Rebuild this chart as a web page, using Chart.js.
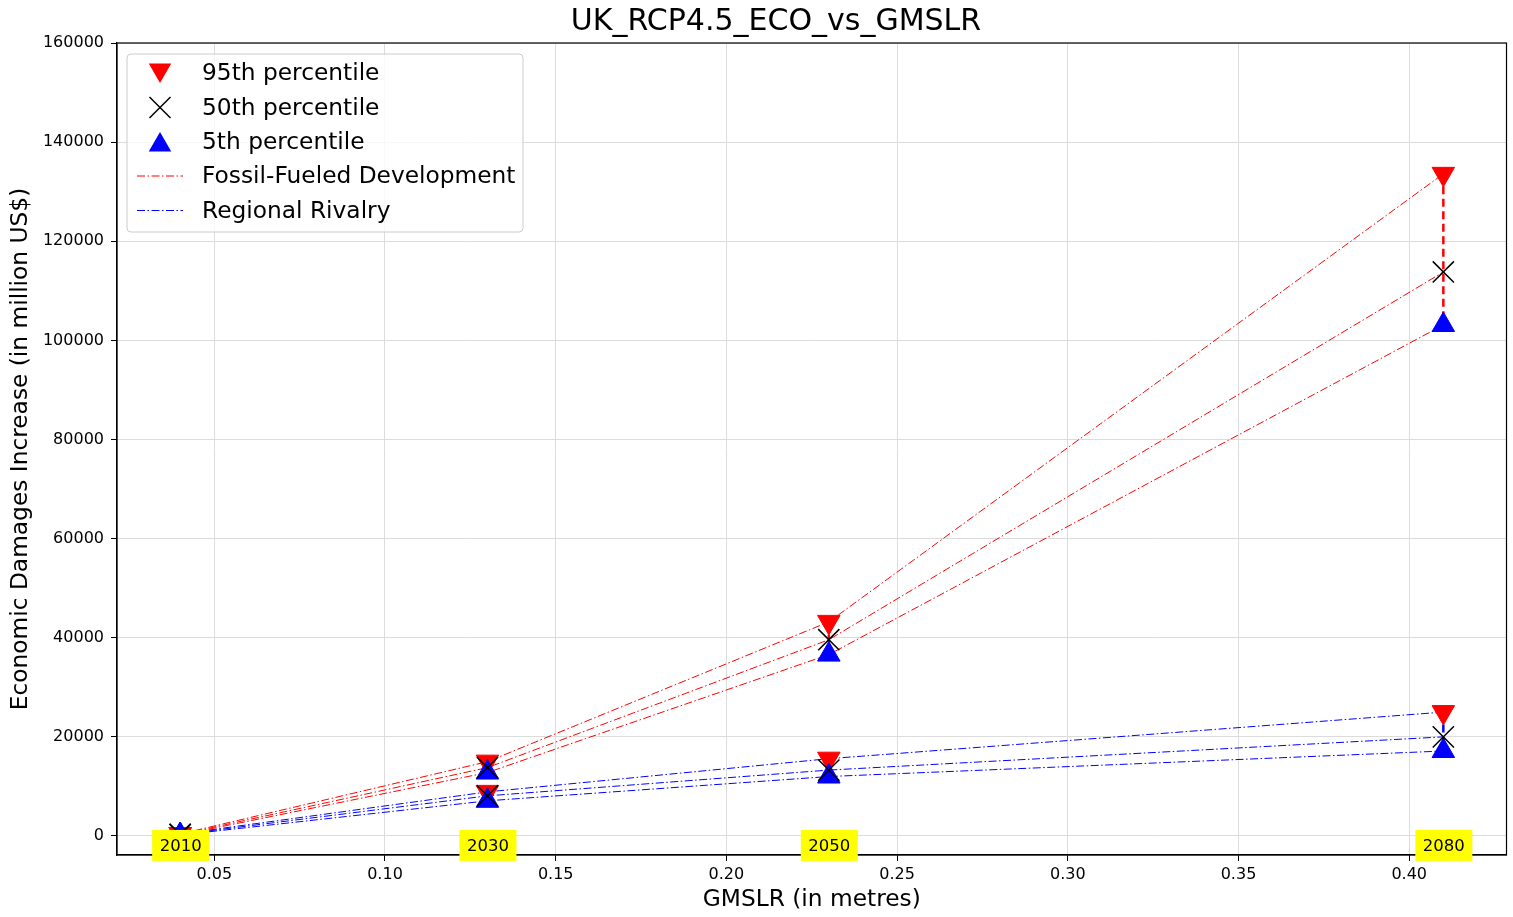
<!DOCTYPE html>
<html>
<head>
<meta charset="utf-8">
<script src="https://cdn.jsdelivr.net/npm/chart.js@4.4.1/dist/chart.umd.min.js"></script>
<style>
  html, body { margin: 0; padding: 0; background: #fff; overflow: hidden; }
  #wrap { width: 1523px; height: 917px; }
  canvas { display: block; }
</style>
</head>
<body>
<div id="wrap"><canvas id="ecoChart" width="1523" height="917"></canvas></div>
<script>
// data
const years = ['2010', '2030', '2050', '2080'];
const gmslr = [0.04, 0.13, 0.23, 0.41];

const fossil95 = [400, 15000, 43200, 133600];
const fossil50 = [300, 13800, 39600, 113800];
const fossil5 = [200, 12800, 36600, 103100];

const rival95 = [400, 8900, 15600, 25000];
const rival50 = [300, 8100, 13300, 20000];
const rival5 = [200, 7100, 12000, 17150];

const xTicks = [0.05, 0.10, 0.15, 0.20, 0.25, 0.30, 0.35, 0.40];
const yTicks = [0, 20000, 40000, 60000, 80000, 100000, 120000, 140000, 160000];

const legendLabels = ['95th percentile', '50th percentile', '5th percentile', 'Fossil-Fueled Development', 'Regional Rivalry'];

const FONT = "'DejaVu Sans', sans-serif";
const DASHDOT = [8, 2.5, 1.5, 2.5];

const pts = (vals) => gmslr.map((x, i) => ({ x: x, y: vals[i] }));

const markerSet = (vals, style, color, radius, rotation, order) => ({
  data: pts(vals),
  showLine: false,
  pointStyle: style,
  pointRadius: radius,
  pointRotation: rotation,
  pointBackgroundColor: color,
  pointBorderColor: color,
  pointBorderWidth: style === 'crossRot' ? 1.5 : 1,
  order: order
});

const lineSet = (vals, color) => ({
  data: pts(vals),
  showLine: true,
  borderColor: color,
  borderWidth: 1,
  borderDash: DASHDOT,
  pointRadius: 0,
  fill: false,
  order: 5
});

const verticalSets = [];
gmslr.forEach((x, i) => {
  verticalSets.push({
    data: [{ x: x, y: fossil95[i] }, { x: x, y: fossil5[i] }],
    showLine: true, borderColor: '#ff0000', borderWidth: 2.5, borderDash: [8, 4.5],
    pointRadius: 0, order: 4
  });
  verticalSets.push({
    data: [{ x: x, y: rival95[i] }, { x: x, y: rival5[i] }],
    showLine: true, borderColor: '#0000ff', borderWidth: 2.5, borderDash: [8, 4.5],
    pointRadius: 0, order: 4
  });
});

const datasets = [
  markerSet(fossil50, 'crossRot', '#000000', 15, 0, 0),
  markerSet(rival50, 'crossRot', '#000000', 15, 0, 0),
  markerSet(fossil5, 'triangle', '#0000ff', 13, 0, 1),
  markerSet(rival5, 'triangle', '#0000ff', 13, 0, 1),
  markerSet(fossil95, 'triangle', '#ff0000', 13, 180, 2),
  markerSet(rival95, 'triangle', '#ff0000', 13, 180, 2),
  ...verticalSets,
  lineSet(fossil95, '#ff0000'),
  lineSet(fossil50, '#ff0000'),
  lineSet(fossil5, '#ff0000'),
  lineSet(rival95, '#0000ff'),
  lineSet(rival50, '#0000ff'),
  lineSet(rival5, '#0000ff')
];

function drawTriangle(ctx, x, y, r, down) {
  const s = down ? -1 : 1;
  ctx.beginPath();
  ctx.moveTo(x, y - s * r);
  ctx.lineTo(x - r * 0.866, y + s * r * 0.5);
  ctx.lineTo(x + r * 0.866, y + s * r * 0.5);
  ctx.closePath();
  ctx.fill();
}

const decorPlugin = {
  id: 'decor',
  afterDraw(chart) {
    const ctx = chart.ctx;
    const area = chart.chartArea;
    const xs = chart.scales.x;
    const ys = chart.scales.y;
    ctx.save();

    // frame (top and right spines)
    ctx.strokeStyle = '#000';
    ctx.lineWidth = 1.2;
    ctx.strokeRect(area.left, area.top, area.right - area.left, area.bottom - area.top);

    // title
    ctx.fillStyle = '#000';
    ctx.font = '30px ' + FONT;
    ctx.textAlign = 'center';
    ctx.textBaseline = 'middle';
    ctx.fillText('UK_RCP4.5_ECO_vs_GMSLR', 776, 22);

    // year boxes
    ctx.font = '16.5px ' + FONT;
    years.forEach((yr, i) => {
      const px = xs.getPixelForValue(gmslr[i]);
      const py = ys.getPixelForValue(-1900);
      ctx.fillStyle = '#ffff00';
      ctx.fillRect(px - 28, py - 15.5, 57, 31);
      ctx.fillStyle = '#000';
      ctx.fillText(yr, px + 0.5, py + 1);
    });

    // legend
    const lx = area.left + 10, ly = area.top + 11, lw = 396, lh = 178;
    ctx.beginPath();
    ctx.roundRect(lx, ly, lw, lh, 4);
    ctx.fillStyle = 'rgba(255,255,255,0.8)';
    ctx.fill();
    ctx.strokeStyle = '#cccccc';
    ctx.lineWidth = 1;
    ctx.stroke();

    const mx = lx + 33;
    const rowY = [ly + 19, ly + 53.5, ly + 88, ly + 122, ly + 156.5];
    ctx.fillStyle = '#ff0000';
    drawTriangle(ctx, mx, rowY[0] - 3, 13, true);
    ctx.strokeStyle = '#000';
    ctx.lineWidth = 1.5;
    ctx.beginPath();
    ctx.moveTo(mx - 10.5, rowY[1] - 10.5); ctx.lineTo(mx + 10.5, rowY[1] + 10.5);
    ctx.moveTo(mx - 10.5, rowY[1] + 10.5); ctx.lineTo(mx + 10.5, rowY[1] - 10.5);
    ctx.stroke();
    ctx.fillStyle = '#0000ff';
    drawTriangle(ctx, mx, rowY[2] + 3, 13, false);
    ctx.lineWidth = 1;
    ctx.setLineDash(DASHDOT);
    [['#ff0000', rowY[3]], ['#0000ff', rowY[4]]].forEach(([c, yy]) => {
      ctx.strokeStyle = c;
      ctx.beginPath();
      ctx.moveTo(lx + 10, yy); ctx.lineTo(lx + 56, yy);
      ctx.stroke();
    });
    ctx.setLineDash([]);

    ctx.fillStyle = '#000';
    ctx.font = '23.3px ' + FONT;
    ctx.textAlign = 'left';
    legendLabels.forEach((t, i) => ctx.fillText(t, lx + 75, rowY[i] + 1));

    ctx.restore();
  }
};

const ecoChart = new Chart(document.getElementById('ecoChart'), {
  type: 'scatter',
  data: { datasets: datasets },
  options: {
    responsive: false,
    animation: false,
    events: [],
    layout: { padding: { left: 0, right: 7, top: 43, bottom: 0 } },
    plugins: {
      legend: { display: false },
      title: { display: false },
      tooltip: { enabled: false }
    },
    scales: {
      x: {
        type: 'linear',
        min: 0.0215,
        max: 0.4285,
        afterBuildTicks: (axis) => { axis.ticks = xTicks.map(v => ({ value: v })); },
        afterFit: (axis) => { axis.height = 62; },
        ticks: {
          color: '#000',
          font: { family: FONT, size: 16 },
          padding: 4,
          maxRotation: 0,
          callback: (v) => Number(v).toFixed(2)
        },
        grid: { color: '#dcdcdc', lineWidth: 1, tickColor: '#000', tickLength: 6, tickWidth: 1 },
        border: { color: '#000', width: 1.2 },
        title: {
          display: true,
          text: 'GMSLR (in metres)',
          color: '#000',
          font: { family: FONT, size: 23.3 },
          padding: { top: 0, bottom: 3 }
        }
      },
      y: {
        type: 'linear',
        min: -3834,
        max: 160000,
        afterBuildTicks: (axis) => { axis.ticks = yTicks.map(v => ({ value: v })); },
        afterFit: (axis) => { axis.width = 117; },
        ticks: {
          color: '#000',
          font: { family: FONT, size: 16 },
          padding: 7,
          callback: (v) => String(v)
        },
        grid: { color: '#dcdcdc', lineWidth: 1, tickColor: '#000', tickLength: 6, tickWidth: 1 },
        border: { color: '#000', width: 1.2 },
        title: {
          display: true,
          text: 'Economic Damages Increase (in million US$)',
          color: '#000',
          font: { family: FONT, size: 23.3 },
          padding: { top: 7, bottom: 0 }
        }
      }
    }
  },
  plugins: [decorPlugin]
});
</script>
</body>
</html>
